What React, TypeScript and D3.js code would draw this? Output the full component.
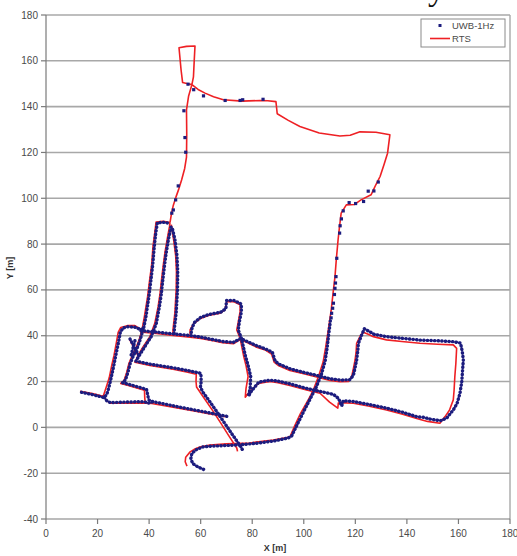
import React from 'react';
import * as d3 from 'd3';

type Pt = [number, number];

// axis ticks
const xTicks = [0, 20, 40, 60, 80, 100, 120, 140, 160, 180];
const yTicks = [-40, -20, 0, 20, 40, 60, 80, 100, 120, 140, 160, 180];

// RTS reference trajectory (red) in metres
const rtsWestLoop: Pt[] = [
  [13.2, 15.8], [18, 14.8], [22.2, 13.6], [23.2, 17], [24.5, 21.5], [25.5, 27], [26.4, 31.5], [27.3, 37],
  [28, 41.5], [29, 43.6], [31.5, 44.4], [34.5, 44.4], [36.3, 43.2], [37.2, 42.3], [38.2, 48.5], [39.4, 57],
  [40.2, 64.3], [41, 71], [41.5, 78.9], [42.2, 85], [42.7, 89.6], [45.5, 89.9], [48.1, 89.4],
];
const rtsNorthRoute: Pt[] = [
  [48.1, 89.4], [48.7, 93.4], [49.4, 97], [50.4, 100.5], [51.5, 104], [52.6, 108], [53.8, 113], [54.5, 118],
  [54.6, 128], [54.5, 138.6], [55.3, 144.5], [56.6, 149.6], [55, 150], [53, 150.5], [52.4, 156], [51.6, 165.7],
  [54.5, 166.3], [57.8, 166.5], [57.5, 160], [57.2, 153], [56.6, 149.6], [59, 147.5], [61.7, 145.9], [65, 144.3],
  [68.8, 143], [76, 142.4], [83, 142.7], [86, 142.6], [89.2, 142.2], [89.7, 136.9], [94, 134], [98.5, 131.3],
  [106, 128.5], [114, 127.2], [118, 127.5], [121.8, 129], [128, 128.8], [133.4, 127.7], [132.5, 119.7],
  [131.2, 115], [129.6, 109.5], [128, 106], [126.1, 101.5], [122.2, 99.3], [119.7, 97.3], [116.5, 97.1],
  [114.5, 93.5], [113.8, 87], [113.3, 81.8], [112.6, 73], [112.1, 65.7], [111.5, 60], [110.6, 50.8],
  [109.5, 42.5], [108.5, 35], [107.5, 28.5], [105.8, 22.5], [103.7, 16.3], [101.5, 11.5], [98.7, 6],
  [96.6, 1], [94.6, -4.2], [88.1, -5.5], [79.1, -6.8], [70, -7.2], [63.6, -7.7], [59.7, -8.6], [57.5, -9.6],
  [55.9, -10.7], [54.2, -13], [54, -15], [54.7, -16.9],
];
const rtsMiddleColumn: Pt[] = [
  [48.1, 89.4], [47.9, 87.6], [47, 82], [46.1, 76], [45.4, 70], [44.8, 64.3], [44.2, 58], [43.5, 52.7],
  [42.2, 45.4], [40.3, 39.6], [37.7, 35.2], [35.8, 31.6], [34.5, 28.4], [40.3, 27], [49.3, 25.4], [55, 24.1],
  [58.3, 23.2], [58.2, 20], [58.4, 17.6], [61.5, 12.5], [64.8, 7.1], [68, 1.5], [71, -3.8], [74, -9], [74.3, -10.5],
];
const rtsEastColumn: Pt[] = [
  [48.6, 88.5], [49.5, 82], [50.3, 75], [50.6, 68], [50.5, 60], [50, 50], [49.3, 43], [49.2, 40.6],
];
const rtsLowerLeft: Pt[] = [
  [37.2, 42.3], [36.2, 38.5], [35, 35], [33.5, 31.5], [32.2, 28], [31.3, 24], [30.3, 20.5], [29, 19.2],
  [31.6, 18.4], [38.2, 16.2], [38.3, 13], [38.5, 10.6], [41, 10.4], [46, 9.5], [52, 8.3], [58, 7], [63.6, 5.9],
  [69.5, 4.6],
];
const rtsBottomLeft: Pt[] = [
  [22.2, 13.6], [23.5, 11.8], [24.8, 10.6], [30, 10.6], [37.7, 10.6], [38.5, 10.6],
];
const rtsCrossing: Pt[] = [[32.4, 38.4], [34, 35], [35.5, 31.8]];
const rtsEastLoop: Pt[] = [
  [36.5, 41.6], [42.8, 41], [49.3, 40.1], [55.9, 39.4], [60, 38.8], [64.8, 37.8], [68.5, 37], [72.7, 36.5],
  [75.3, 38.3], [78, 37], [81.7, 35], [85, 33.8], [87.5, 32], [88.5, 28.5], [90.1, 27], [94.6, 24.8], [100, 23.4],
  [105, 22], [110.2, 20.5], [114, 19.9], [117.3, 20], [118.6, 22.2], [119.3, 26], [119.9, 29.4], [120.3, 33],
  [120.5, 36.7], [122, 40], [123.1, 41.5], [125, 40.6], [127, 39.6], [132.1, 38.2], [138, 37.5], [145.1, 36.7],
  [152, 36.3], [158, 36], [159.3, 34.5], [159, 28], [158.6, 22.2], [158.3, 16], [158, 12], [156.5, 7.5],
  [154.8, 4.7], [152.8, 1.8], [148, 2.6], [143.8, 3.9], [138, 5.8], [132.1, 7.6], [125, 9.3], [119.2, 10.5],
  [114, 10.8], [113.4, 10.6], [113.2, 8.4], [110, 11], [106.3, 14.9], [101.1, 16.3], [94.6, 18.3], [90, 19.5],
  [86.9, 20], [82.4, 19.2], [79, 15.5], [77.3, 13.2], [77.6, 17], [78.4, 22.2], [77.6, 27], [76.7, 31],
  [75.3, 38.9], [74, 42.5], [74.6, 46], [75.3, 50.5], [75.3, 53.5], [72.7, 54.9], [70.1, 54.9], [69.4, 51.3],
  [67.5, 49.8], [63, 48.8], [59.7, 47.4], [57.2, 45.2], [55.9, 42.5], [55.9, 39.4],
];

// UWB-1Hz fixes (blue), dense runs and isolated fixes
const uwbWestLoop: Pt[] = [
  [13.8, 15.3], [18, 14.3], [22.6, 13], [23.6, 14.5], [24.3, 17], [25.3, 21.8], [26.3, 27], [27.1, 31.6],
  [28.1, 37], [28.8, 41.3], [29.8, 43.3], [31.5, 43.9], [34.3, 43.8], [36.5, 42.8], [37.8, 42.9], [38.8, 48.5],
  [39.9, 57], [40.7, 64.3], [41.4, 71], [42, 78.9], [42.6, 85], [43.2, 89.3], [45.5, 89.5], [48.3, 89],
];
const uwbMiddleColumn: Pt[] = [
  [48.5, 87.4], [47.5, 82], [46.6, 76], [45.9, 70], [45.3, 64.3], [44.7, 58], [44, 52.7], [42.8, 45.4],
  [40.8, 39.6], [38.3, 35.2], [36.3, 31.6], [34.9, 28.9], [40.3, 27.6], [49.3, 26], [55, 24.8], [60.1, 23.6],
  [60.2, 20], [59.9, 17.5], [60.9, 15.3], [63.5, 11.3], [66.1, 7.1], [69.5, 1.5], [72.5, -3.5], [75.3, -8],
  [76.5, -10.3],
];
const uwbEastColumn: Pt[] = [
  [49.1, 86.4], [50, 82], [50.8, 75], [51.1, 68], [51, 60], [50.5, 50], [49.8, 43], [49.7, 41],
];
const uwbCrossingA: Pt[] = [[32.6, 38.6], [34.3, 35], [35.9, 31.6]];
const uwbCrossingB: Pt[] = [[34.5, 37.8], [33.6, 34], [32.8, 30.6]];
const uwbLowerLeft: Pt[] = [
  [37.6, 42.5], [36.6, 38.5], [35.5, 35], [34, 31.5], [32.7, 28], [31.8, 24], [30.8, 20.6], [29.6, 19.5],
  [32, 18.8], [39, 16.6], [39.5, 14], [39.8, 12], [41.5, 11.2], [46, 10.2], [52, 8.8], [58, 7.5], [63.6, 6.3],
  [70.2, 4.8],
];
const uwbBottomLeft: Pt[] = [
  [22.6, 13], [23.8, 11.3], [25, 10.8], [30, 11], [36, 11.2], [38, 11.2], [39.7, 10.6], [41.5, 11.2],
];
const uwbEastLoop: Pt[] = [
  [36.8, 42.2], [42.8, 41.6], [49.3, 40.8], [55.9, 40.1], [60, 39.4], [64.8, 38.3], [68.5, 37.5], [72.7, 37.1],
  [75.5, 38.8], [78, 37.5], [81.8, 35.6], [85, 34.3], [87.8, 32.8], [88.9, 28.9], [90.4, 27.6], [94.8, 25.5],
  [100, 24], [105, 22.7], [110.2, 21.2], [114.2, 20.6], [117.8, 20.8], [119.2, 22.6], [119.9, 26], [120.5, 29.4],
  [120.9, 33], [121.2, 36.7], [122.5, 40.5], [123.5, 43], [125.2, 42], [127.3, 40.6], [132.1, 39.6], [138, 38.9],
  [145.1, 38.1], [152, 37.8], [158, 37.4], [160.8, 36.8], [161.5, 33], [161.9, 29.4], [161.6, 25], [161.3, 20],
  [160.6, 14.9], [159.5, 10.5], [158, 7.6], [155.4, 4], [153, 2.9], [149, 3.6], [146.4, 4.4], [144, 4.6],
  [138, 6.7], [132.1, 8.4], [125.7, 9.9], [119.2, 11.3], [115.3, 11.6], [114.7, 9.3], [113.5, 12.6],
  [111.5, 14.4], [106.3, 15.7], [101.1, 17], [94.6, 19], [90, 20.2], [86.9, 20.6], [82.6, 19.8], [79.8, 16],
  [78.5, 13.6], [79.2, 17], [79.4, 22.2], [78.4, 27], [77.4, 31], [75.8, 38.9], [74.6, 42.5], [75, 46],
  [75.8, 50.5], [75.8, 53.8], [73, 55.4], [70, 55.4], [69.8, 51.8], [67.8, 50.3], [63, 49.2], [59.9, 47.9],
  [57.5, 45.7], [56.4, 42.5], [56.3, 40.1],
];
const uwbSouthRoute: Pt[] = [
  [110.3, 46.5], [110, 43.5], [109.6, 40], [109.1, 35], [108.3, 29], [106.8, 23], [104.8, 17.5], [102.5, 12.5],
  [100, 7], [98, 2.5], [96.5, -1], [95.3, -3.8], [94, -4.6], [88.2, -6], [82, -6.9], [75.3, -7.6], [70, -7.9],
  [64, -8.2], [61, -8.5], [58.5, -9.6], [56.6, -11.3], [56.2, -13.6], [56.9, -15.8], [59, -17.3], [62.2, -18.9],
];
const uwbSparse: Pt[] = [
  [48.8, 93.5], [49.4, 94.9], [50.3, 99.3], [51.3, 105.4], [54.2, 120.1], [53.9, 126.5], [53.5, 138.2],
  [55.1, 149.8], [57.3, 147.4], [61.1, 144.7], [69.5, 142.7], [75.3, 142.7], [76.3, 143], [84.2, 143.2],
  [128.9, 107.1], [127.2, 103.2], [125, 103.1], [123.2, 98.6], [120.1, 97.7], [117.6, 98.1], [115.3, 94.5],
  [114.6, 91], [114.1, 88], [113.9, 84.8], [112.8, 73.8], [112.5, 65.8], [112.3, 63], [112.1, 60.7],
  [111.9, 58], [111.5, 54.2], [111.2, 52], [110.8, 49.8], [110.6, 47.8],
];

const rtsTracks = [rtsWestLoop, rtsNorthRoute, rtsMiddleColumn, rtsEastColumn, rtsLowerLeft, rtsBottomLeft, rtsCrossing, rtsEastLoop];
const uwbTracks = [uwbWestLoop, uwbMiddleColumn, uwbEastColumn, uwbCrossingA, uwbCrossingB, uwbLowerLeft, uwbBottomLeft, uwbEastLoop, uwbSouthRoute];

const W = 517;
const H = 556;
const RED = '#ee2024';
const NAVY = '#1c1c7e';
const FONT = '"Liberation Sans", Arial, sans-serif';

export default function App() {
  const x = d3.scaleLinear().domain([0, 180]).range([46, 510]);
  const y = d3.scaleLinear().domain([-40, 180]).range([519, 15]);
  const line = d3.line<Pt>().x(d => x(d[0])).y(d => y(d[1]));

  return (
    <svg width={W} height={H} style={{ position: 'absolute', left: 0, top: 0, background: '#fff' }}>
      {/* tail of the caption letter above the figure */}
      <text x={428} y={0} fontFamily="serif" fontSize={34} fill="#111">y</text>

      {/* grid */}
      {yTicks.filter(t => t > -40).map(t => (
        <line key={'g' + t} x1={x(0)} x2={x(180)} y1={y(t)} y2={y(t)} stroke="#a8a8a8" strokeWidth={1.6} />
      ))}
      <line x1={x(180)} x2={x(180)} y1={y(180)} y2={y(-40)} stroke="#a8a8a8" strokeWidth={1.4} />

      {/* axes */}
      <line x1={x(0)} x2={x(0)} y1={y(180)} y2={y(-40)} stroke="#7a7a7a" strokeWidth={1.2} />
      <line x1={x(0)} x2={x(180)} y1={y(-40)} y2={y(-40)} stroke="#7a7a7a" strokeWidth={1.2} />
      {yTicks.map(t => (
        <g key={'y' + t}>
          <line x1={x(0) - 5} x2={x(0)} y1={y(t)} y2={y(t)} stroke="#7a7a7a" strokeWidth={1.2} />
          <text x={38} y={y(t)} dy="0.35em" textAnchor="end" fontFamily={FONT} fontSize={10} fill="#4a4a4a">{t}</text>
        </g>
      ))}
      {xTicks.map(t => (
        <g key={'x' + t}>
          <line x1={x(t)} x2={x(t)} y1={y(-40)} y2={y(-40) + 5} stroke="#7a7a7a" strokeWidth={1.2} />
          <text x={x(t)} y={537} textAnchor="middle" fontFamily={FONT} fontSize={10} fill="#4a4a4a">{t}</text>
        </g>
      ))}
      <text x={275} y={551} textAnchor="middle" fontFamily={FONT} fontSize={9} fontWeight="bold" fill="#333">X [m]</text>
      <text transform="translate(13,268) rotate(-90)" textAnchor="middle" fontFamily={FONT} fontSize={9} fontWeight="bold" fill="#333">Y [m]</text>

      {/* RTS */}
      {rtsTracks.map((t, i) => (
        <path key={'r' + i} d={line(t) || ''} fill="none" stroke={RED} strokeWidth={1.6} strokeLinejoin="round" />
      ))}

      {/* UWB: chains of fixes */}
      {uwbTracks.map((t, i) => (
        <path key={'u' + i} d={line(t) || ''} fill="none" stroke={NAVY} strokeWidth={3.4}
          strokeLinecap="round" strokeLinejoin="round" strokeDasharray="0.3 3.3" />
      ))}
      {uwbSparse.map((p, i) => (
        <rect key={'s' + i} x={x(p[0]) - 1.6} y={y(p[1]) - 1.6} width={3.2} height={3.2} fill={NAVY} />
      ))}

      {/* legend */}
      <rect x={421} y={19} width={84} height={28} fill="#fff" stroke="#8a8a8a" strokeWidth={1} />
      <rect x={438.5} y={24} width={3} height={3} fill={NAVY} />
      <text x={452} y={29} fontFamily={FONT} fontSize={9.5} fill="#4a4a4a">UWB-1Hz</text>
      <line x1={430} x2={450} y1={38.5} y2={38.5} stroke={RED} strokeWidth={1.6} />
      <text x={452} y={42} fontFamily={FONT} fontSize={9.5} fill="#4a4a4a">RTS</text>
    </svg>
  );
}
